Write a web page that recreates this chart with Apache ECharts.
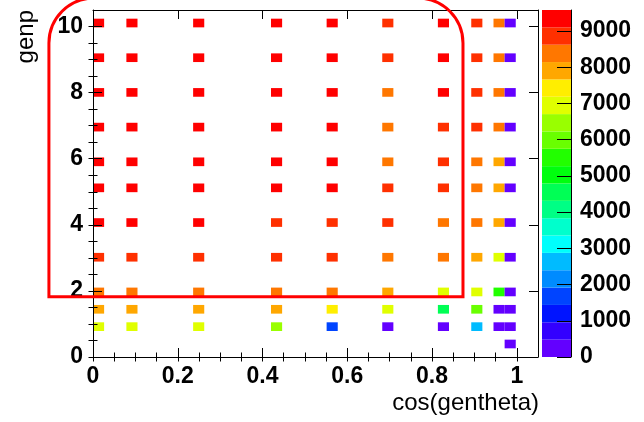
<!DOCTYPE html>
<html><head><meta charset="utf-8">
<script src="https://cdn.jsdelivr.net/npm/echarts@6/dist/echarts.min.js"></script>
<style>html,body{margin:0;padding:0;background:#fff}#c{width:644px;height:422px}</style>
</head><body><div id="c"></div>
<script>
// ---- histogram definition (TH2: 40 x 40 bins) ----
const COS_NBINS = 40, COS_MIN = 0, COS_MAX = 1.05;
const GENP_NBINS = 40, GENP_MIN = 0, GENP_MAX = 10.5;
const Z_MIN = 0, Z_MAX = 9580, N_CONTOURS = 20;

// ---- data ----
const cosValues  = [0.013, 0.092, 0.249, 0.433, 0.564, 0.696, 0.827, 0.906, 0.958, 0.984];
const genpValues = [0.5, 1, 1.5, 2, 3, 4, 5, 6, 7, 8, 9, 10];
const counts_p0_5 = [null, null, null, null, null, null, null, null, null, 80];
const counts_p1   = [6900, 6850, 6800, 6450, 1700, 200, 250, 2600, 120, 100];
const counts_p1_5 = [7800, 7750, 7700, 7700, 7400, 6900, 4500, 6000, 300, 150];
const counts_p2   = [8350, 8300, 8250, 8200, 8150, 7850, 6950, 6850, 5500, 170];
const counts_p3   = [8900, 8850, 8800, 8700, 8650, 8300, 8200, 7850, 6900, 180];
const counts_p4   = [9300, 9200, 9250, 8950, 8900, 8700, 8300, 8250, 7800, 190];
const counts_p5   = [9400, 9350, 9400, 9250, 9150, 8800, 8850, 8350, 7900, 200];
const counts_p6   = [9450, 9400, 9500, 9300, 9150, 8400, 8900, 8400, 7950, 210];
const counts_p7   = [9500, 9450, 9580, 9350, 9200, 8500, 8950, 8850, 8250, 220];
const counts_p8   = [9450, 9400, 9500, 9400, 9250, 8450, 9200, 8900, 8300, 230];
const counts_p9   = [9400, 9350, 9450, 9300, 9350, 8950, 9300, 8800, 8350, 240];
const counts_p10  = [9350, 9300, 9400, 9350, 9300, 8900, 9250, 8850, 8400, 250];
const countRows = [counts_p0_5, counts_p1, counts_p1_5, counts_p2, counts_p3, counts_p4,
                   counts_p5, counts_p6, counts_p7, counts_p8, counts_p9, counts_p10];

// ---- tick labels ----
const xTickValues = [0, 0.2, 0.4, 0.6, 0.8, 1];
const yTickValues = [0, 2, 4, 6, 8, 10];
const zTickValues = [0, 1000, 2000, 3000, 4000, 5000, 6000, 7000, 8000, 9000];
const xTitle = 'cos(gentheta)';
const yTitle = 'genp';

// ---- style ----
const PALETTE = ['#6300ff','#3300ff','#0014ff','#0044ff','#008bff','#00bbff','#00fffc','#00ffcc',
                 '#00ff85','#00ff55','#00ff0e','#22ff00','#69ff00','#99ff00','#e0ff00','#ffee00',
                 '#ffa700','#ff7700','#ff3000','#ff0000'];
const FONT = "'Liberation Sans', Arial, Helvetica, sans-serif";

const xMinor = [], yMinor = [];
for (let i = 0; i <= 20; i++) xMinor.push(+(i * 0.05).toFixed(2));
for (let i = 0; i <= 20; i++) yMinor.push(i * 0.5);

function colorFor(z) {
  let k = Math.floor((z - Z_MIN) / (Z_MAX - Z_MIN) * N_CONTOURS);
  if (k < 0) k = 0; if (k >= N_CONTOURS) k = N_CONTOURS - 1;
  return PALETTE[k];
}

const cellData = [];
countRows.forEach((row, r) => row.forEach((v, c) => {
  if (v != null && v > 0) cellData.push([cosValues[c], genpValues[r], v]);
}));
const barData = [];
for (let k = 0; k < N_CONTOURS; k++) {
  barData.push([0, Z_MIN + k * (Z_MAX - Z_MIN) / N_CONTOURS, Z_MIN + (k + 1) * (Z_MAX - Z_MIN) / N_CONTOURS, k]);
}

function renderCell(params, api) {
  const x = api.value(0), y = api.value(1), z = api.value(2);
  const bx = (COS_MAX - COS_MIN) / COS_NBINS, by = (GENP_MAX - GENP_MIN) / GENP_NBINS;
  const ix = Math.floor((x - COS_MIN) / bx), iy = Math.floor((y - GENP_MIN) / by);
  const x0 = COS_MIN + ix * bx, x1 = x0 + bx, y0 = GENP_MIN + iy * by, y1 = y0 + by;
  const p0 = api.coord([x0, y1]), p1 = api.coord([x1, y0]);
  return { type: 'rect', shape: { x: p0[0], y: p0[1], width: p1[0] - p0[0], height: p1[1] - p0[1] },
           style: { fill: colorFor(z) } };
}
function renderBand(params, api) {
  const lo = api.value(1), hi = api.value(2), k = api.value(3);
  const p0 = api.coord([0, hi]), p1 = api.coord([1, lo]);
  return { type: 'rect', shape: { x: p0[0], y: p0[1], width: p1[0] - p0[0], height: p1[1] - p0[1] },
           style: { fill: PALETTE[k] } };
}

const plain = v => String(v);
const labelStyle = { fontFamily: FONT, fontWeight: 'bold', fontSize: 23, color: '#000', formatter: plain };
const black = { color: '#000', width: 1 };
function majorAxis(extra) {
  return Object.assign({ type: 'value', splitLine: { show: false }, z: 10,
    axisLine: { show: true, onZero: false, lineStyle: black } }, extra);
}
function minorAxis(extra) {
  return Object.assign({ type: 'value', splitLine: { show: false }, z: 10,
    axisLine: { show: false }, axisLabel: { show: false } }, extra);
}

const chart = echarts.init(document.getElementById('c'), null, { renderer: 'canvas' });
const GRID = { left: 93, top: 10, width: 445, height: 347 };
chart.setOption({
  animation: false,
  backgroundColor: '#fff',
  grid: [Object.assign({}, GRID), Object.assign({}, GRID), { left: 542, top: 10, width: 29, height: 347 }],
  xAxis: [
    majorAxis({ gridIndex: 0, position: 'bottom', min: COS_MIN, max: COS_MAX,
      axisTick: { inside: true, length: 9, customValues: xTickValues, lineStyle: black },
      axisLabel: Object.assign({ customValues: xTickValues, margin: 8 }, labelStyle) }),
    majorAxis({ gridIndex: 0, position: 'top', min: COS_MIN, max: COS_MAX,
      axisTick: { inside: true, length: 9, customValues: xTickValues, lineStyle: black },
      axisLabel: { show: false } }),
    minorAxis({ gridIndex: 1, position: 'bottom', min: COS_MIN, max: COS_MAX,
      axisTick: { inside: true, length: 4.5, customValues: xMinor, lineStyle: black } }),
    minorAxis({ gridIndex: 1, position: 'top', min: COS_MIN, max: COS_MAX,
      axisTick: { inside: true, length: 4.5, customValues: xMinor, lineStyle: black } }),
    { type: 'value', gridIndex: 2, min: 0, max: 1, show: false }
  ],
  yAxis: [
    majorAxis({ gridIndex: 0, position: 'left', min: GENP_MIN, max: GENP_MAX,
      axisTick: { inside: true, length: 9, customValues: yTickValues, lineStyle: black },
      axisLabel: Object.assign({ customValues: yTickValues, margin: 10 }, labelStyle) }),
    majorAxis({ gridIndex: 0, position: 'right', min: GENP_MIN, max: GENP_MAX,
      axisTick: { inside: true, length: 9, customValues: yTickValues, lineStyle: black },
      axisLabel: { show: false } }),
    minorAxis({ gridIndex: 1, position: 'left', min: GENP_MIN, max: GENP_MAX,
      axisTick: { inside: true, length: 4.5, customValues: yMinor, lineStyle: black } }),
    minorAxis({ gridIndex: 1, position: 'right', min: GENP_MIN, max: GENP_MAX,
      axisTick: { inside: true, length: 4.5, customValues: yMinor, lineStyle: black } }),
    majorAxis({ gridIndex: 2, position: 'right', min: Z_MIN, max: Z_MAX,
      axisTick: { inside: true, length: 14, customValues: zTickValues, lineStyle: black },
      axisLabel: Object.assign({ customValues: zTickValues, margin: 9 }, labelStyle) })
  ],
  series: [
    { type: 'custom', xAxisIndex: 0, yAxisIndex: 0, renderItem: renderCell, data: cellData,
      encode: { x: 0, y: 1 }, z: 2, clip: true },
    { type: 'custom', xAxisIndex: 4, yAxisIndex: 4, renderItem: renderBand, data: barData,
      encode: { x: 0, y: [1, 2] }, z: 2 }
  ]
});

// annotation region (data coordinates) -> pixels through the axes
const regionCos = [-0.104, 0.873];
const regionGenp = [1.82, 10.86];
const pTL = chart.convertToPixel({ gridIndex: 0 }, [regionCos[0], regionGenp[1]]);
const pBR = chart.convertToPixel({ gridIndex: 0 }, [regionCos[1], regionGenp[0]]);

chart.setOption({
  graphic: [
    { type: 'rect', id: 'region', z: 100,
      shape: { x: pTL[0], y: pTL[1], width: pBR[0] - pTL[0], height: pBR[1] - pTL[1], r: [45, 45, 0, 0] },
      style: { fill: 'none', stroke: '#ff0000', lineWidth: 3 } },
    { type: 'text', id: 'xt', x: 539, y: 403, z: 100,
      style: { text: xTitle, align: 'right', verticalAlign: 'middle', fontFamily: FONT, fontSize: 24, fill: '#000' } },
    { type: 'text', id: 'yt', x: 26, y: 10, rotation: Math.PI / 2, z: 100,
      style: { text: yTitle, align: 'right', verticalAlign: 'middle', fontFamily: FONT, fontSize: 24, fill: '#000' } }
  ]
});
</script></body></html>
